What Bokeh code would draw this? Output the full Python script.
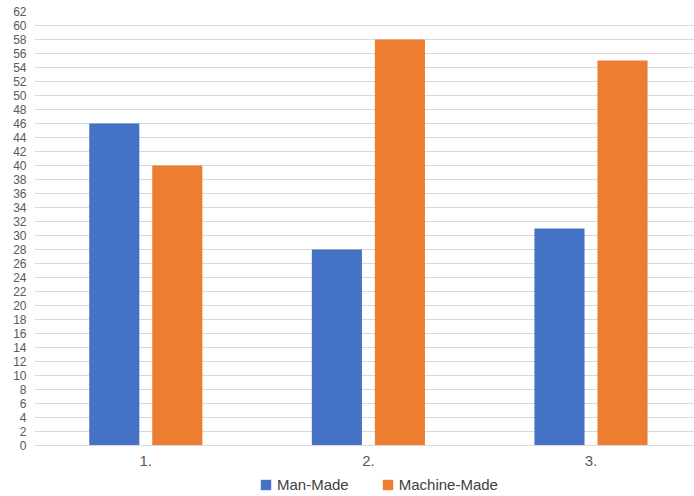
from bokeh.plotting import figure
from bokeh.models import ColumnDataSource, Legend, LegendItem, FixedTicker
from bokeh.transform import dodge
from bokeh.embed import file_html
from bokeh.resources import INLINE

categories = ["1.", "2.", "3."]
man_made = [46, 28, 31]
machine_made = [40, 58, 55]
y_ticks = list(range(0, 63, 2))

xpos = [1, 2, 3]
source = ColumnDataSource(dict(x=xpos, man=man_made, machine=machine_made))

# frame spans from y=11 to the bottom of the window; 14 px per 2 units
y_bottom = -51 * 62 / 434
p = figure(frame_width=660, frame_height=485, output_backend="svg", toolbar_location=None,
           x_range=(0.5, 3.465), y_range=(y_bottom, 62),
           min_border_left=34, min_border_right=0, min_border_top=11, min_border_bottom=0)
p.outline_line_color = None
p.background_fill_color = "white"
p.border_fill_color = "white"

r1 = p.vbar(x=dodge("x", -0.1416), top="man", width=0.225, source=source,
            fill_color="#4472C4", line_color=None)
r2 = p.vbar(x=dodge("x", 0.1416), top="machine", width=0.225, source=source,
            fill_color="#ED7D31", line_color=None)

p.xgrid.grid_line_color = None
p.ygrid.grid_line_color = "#D9D9D9"
p.ygrid.grid_line_width = 1

p.yaxis.ticker = FixedTicker(ticks=y_ticks)
p.yaxis.axis_line_color = None
p.yaxis.major_tick_line_color = None
p.yaxis.minor_tick_line_color = None
p.yaxis.major_tick_out = 0
p.yaxis.major_label_standoff = 8
p.yaxis.major_label_text_font = "Liberation Sans"
p.yaxis.major_label_text_font_size = "12px"
p.yaxis.major_label_text_color = "#595959"

p.xaxis.fixed_location = 0
p.xaxis.ticker = FixedTicker(ticks=xpos)
p.xaxis.major_label_overrides = {x: c for x, c in zip(xpos, categories)}
p.xaxis.axis_line_color = "#D9D9D9"
p.xaxis.major_tick_line_color = None
p.xaxis.minor_tick_line_color = None
p.xaxis.major_tick_out = 0
p.xaxis.major_label_standoff = 10
p.xaxis.major_label_text_font = "Liberation Sans"
p.xaxis.major_label_text_font_size = "15px"
p.xaxis.major_label_text_color = "#595959"

legend = Legend(items=[LegendItem(label="Man-Made", renderers=[r1]),
                       LegendItem(label="Machine-Made", renderers=[r2])],
                orientation="horizontal", location=(225, 3),
                glyph_width=13, glyph_height=13, spacing=32, label_standoff=5,
                label_text_font="Liberation Sans", label_text_font_size="15px",
                label_text_color="#404040", border_line_color=None,
                background_fill_alpha=0, padding=0, margin=0)
p.add_layout(legend, "center")

open("out.html", "w").write(file_html(p, INLINE))
